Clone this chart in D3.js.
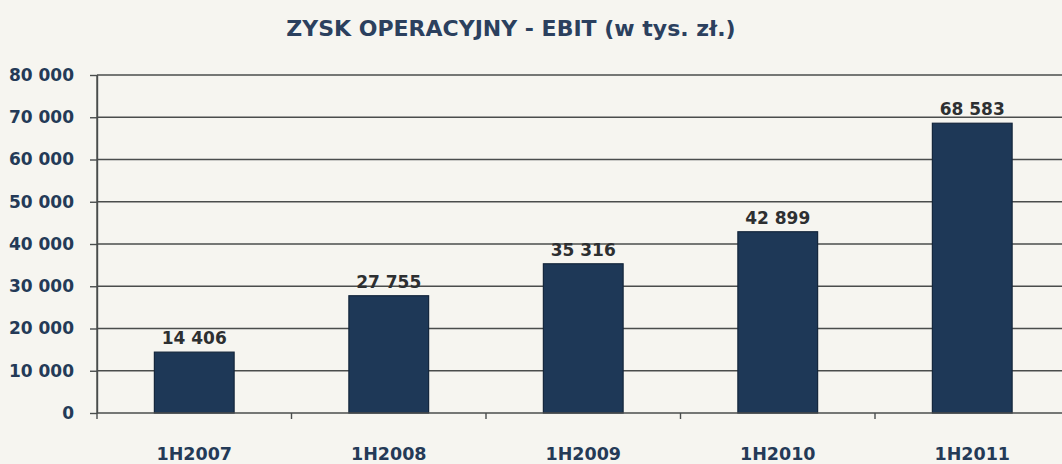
<!DOCTYPE html>
<html lang="pl">
<head>
<meta charset="UTF-8">
<title>Zysk operacyjny - EBIT</title>
<style>
  body { margin: 0; background: #f6f5f0; }
  svg { display: block; font-family: "DejaVu Sans", "Lato", sans-serif; }
  .grid line { stroke: #4a4d4c; stroke-width: 1.4; }
  .axis path, .axis line { stroke: #4a4d4c; stroke-width: 1.4; }
  .axis text { font-family: "DejaVu Sans", sans-serif; }
  .y.axis text { fill: #243a57; font-size: 17px; font-weight: 700; }
  .x.axis text { fill: #243a57; font-size: 17.5px; font-weight: 700; }
</style>
</head>
<body>
<svg width="1062" height="464"></svg>
<script src="https://d3js.org/d3.v7.min.js"></script>
<script>

  var categories = ['1H2007', '1H2008', '1H2009', '1H2010', '1H2011'];
  var ebit = [14406, 27755, 35316, 42899, 68583];
  var yTicks = [0, 10000, 20000, 30000, 40000, 50000, 60000, 70000, 80000];

  var fmt = function(v) {
    return d3.format(',')(v).replace(/,/g, ' ');
  };

  var svg = d3.select('svg');
  var margin = {top: 75, left: 97, bottom: 51};
  var plotBottom = 464 - margin.bottom;
  var plotRight = margin.left + 194.5 * categories.length;

  var x = d3.scaleBand()
    .domain(categories)
    .range([margin.left, plotRight])
    .paddingInner(0.59)
    .paddingOuter(0.295);

  var y = d3.scaleLinear()
    .domain([0, 80000])
    .range([plotBottom, margin.top]);

  // gridlines
  svg.append('g')
    .attr('class', 'grid')
    .selectAll('line')
    .data(yTicks.slice(1))
    .enter()
    .append('line')
    .attr('x1', margin.left)
    .attr('x2', 1062)
    .attr('y1', function(d) { return y(d); })
    .attr('y2', function(d) { return y(d); });

  // y axis
  var yAxis = d3.axisLeft(y)
    .tickValues(yTicks)
    .tickFormat(fmt)
    .tickSize(7)
    .tickPadding(16)
    .tickSizeOuter(0);

  svg.append('g')
    .attr('class', 'y axis')
    .attr('transform', 'translate(' + margin.left + ',0)')
    .call(yAxis);

  // bars
  svg.selectAll('.bar')
    .data(ebit)
    .enter()
    .append('rect')
    .attr('class', 'bar')
    .attr('x', function(d, i) { return x(categories[i]); })
    .attr('y', function(d) { return y(d); })
    .attr('width', x.bandwidth())
    .attr('height', function(d) { return plotBottom - y(d); })
    .attr('fill', '#1e3857')
    .attr('stroke', '#14263c')
    .attr('stroke-width', 1.2);

  // value labels
  svg.selectAll('.value')
    .data(ebit)
    .enter()
    .append('text')
    .attr('class', 'value')
    .attr('x', function(d, i) { return x(categories[i]) + x.bandwidth() / 2; })
    .attr('y', function(d) { return y(d) - 8; })
    .attr('text-anchor', 'middle')
    .attr('fill', '#2d2f31')
    .style('font-size', '17px')
    .style('font-weight', 700)
    .text(fmt);

  // x axis with ticks between categories
  svg.append('line')
    .attr('x1', margin.left)
    .attr('x2', 1062)
    .attr('y1', plotBottom)
    .attr('y2', plotBottom)
    .attr('stroke', '#4a4d4c')
    .attr('stroke-width', 1.4);

  svg.append('g')
    .selectAll('line')
    .data(categories)
    .enter()
    .append('line')
    .attr('x1', function(d) { return x(d) - x.step() * x.paddingOuter(); })
    .attr('x2', function(d) { return x(d) - x.step() * x.paddingOuter(); })
    .attr('y1', plotBottom)
    .attr('y2', plotBottom + 6)
    .attr('stroke', '#4a4d4c')
    .attr('stroke-width', 1.4);

  svg.append('g')
    .attr('class', 'x axis')
    .selectAll('text')
    .data(categories)
    .enter()
    .append('text')
    .attr('x', function(d) { return x(d) + x.bandwidth() / 2; })
    .attr('y', plotBottom + 47)
    .attr('text-anchor', 'middle')
    .text(function(d) { return d; });

  // y axis line
  svg.append('line')
    .attr('x1', margin.left)
    .attr('x2', margin.left)
    .attr('y1', margin.top)
    .attr('y2', plotBottom)
    .attr('stroke', '#4a4d4c')
    .attr('stroke-width', 1.4);

  // title
  svg.append('text')
    .attr('x', 511)
    .attr('y', 36)
    .attr('text-anchor', 'middle')
    .attr('fill', '#2b405e')
    .style('font-size', '22px')
    .style('font-weight', 700)
    .text('ZYSK OPERACYJNY - EBIT (w tys. zł.)');

</script>
</body>
</html>
